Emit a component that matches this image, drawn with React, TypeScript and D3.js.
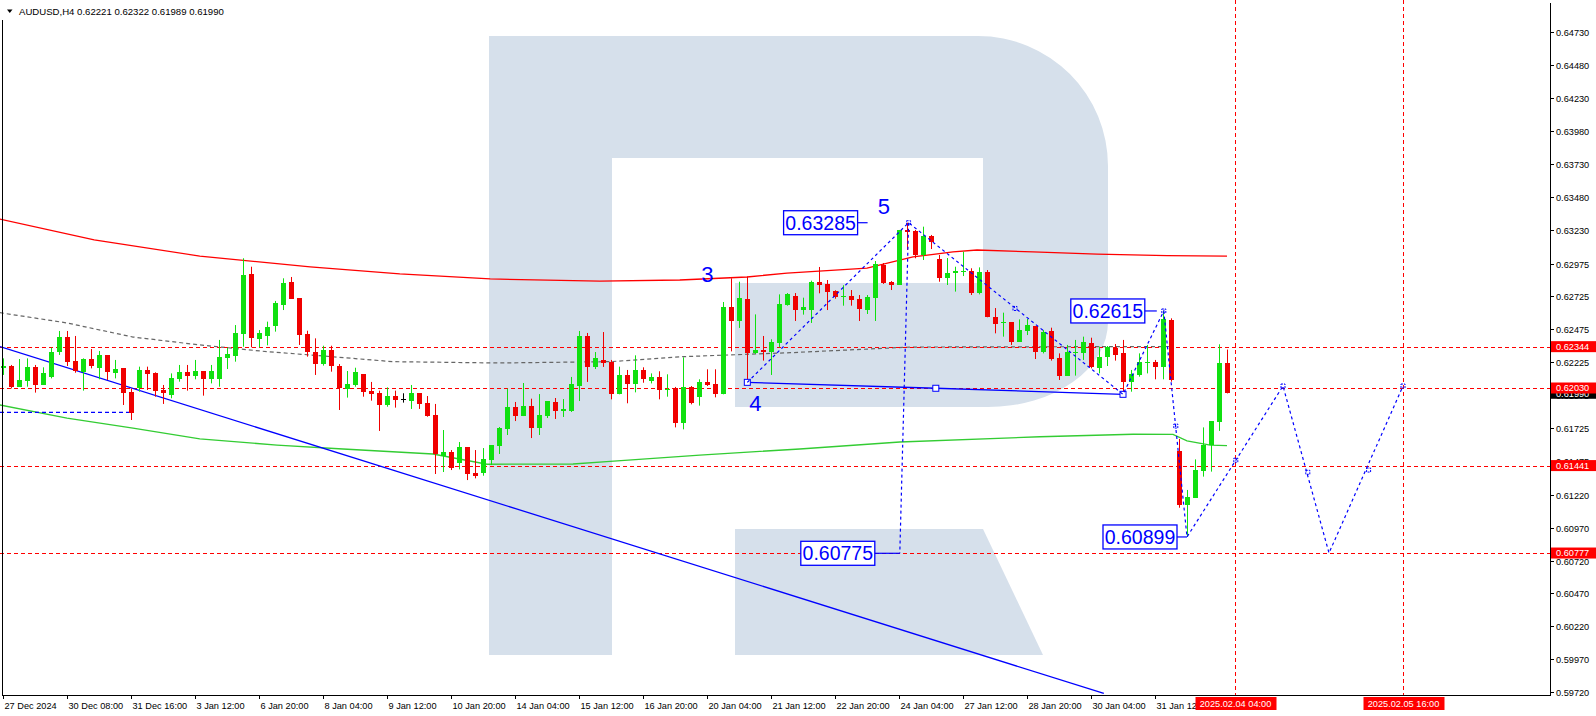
import React, { useEffect } from "react";
import * as d3 from "d3";

// ---------- candle data (H4 bars, index 0 = 27 Dec 2024 00:00) ----------
const OPEN = [
  0.62184, 0.62197, 0.6204, 0.62086, 0.6219, 0.62053, 0.62116, 0.62306, 0.62417, 0.62235,
  0.62154, 0.6225, 0.62184, 0.62278, 0.62146, 0.62182, 0.61997, 0.62027, 0.62167, 0.62144,
  0.62015, 0.61977, 0.62101, 0.62152, 0.62121, 0.62159, 0.62098, 0.62101, 0.6226, 0.62276,
  0.6244, 0.62896, 0.62405, 0.62427, 0.62501, 0.6266, 0.62835, 0.62713, 0.6244, 0.62303,
  0.62215, 0.62319, 0.62197, 0.62025, 0.62053, 0.62136, 0.62007, 0.61992, 0.61903, 0.61969,
  0.61949, 0.61931, 0.61992, 0.61916, 0.61825, 0.61516, 0.61544, 0.61461, 0.61582, 0.61385,
  0.61385, 0.61483, 0.6159, 0.61719, 0.61886, 0.61817, 0.61893, 0.61726, 0.61817, 0.61924,
  0.61855, 0.61855, 0.62045, 0.62425, 0.6219, 0.62243, 0.6223, 0.61982, 0.62129, 0.62058,
  0.62164, 0.62086, 0.62111, 0.62012, 0.62027, 0.61767, 0.62035, 0.61959, 0.62073, 0.6206,
  0.61982, 0.62643, 0.62536, 0.62703, 0.62298, 0.62316, 0.62306, 0.62372, 0.62663, 0.62729,
  0.6262, 0.62622, 0.62835, 0.6282, 0.62767, 0.62721, 0.62729, 0.62708, 0.62622, 0.62713,
  0.62964, 0.62837, 0.62815, 0.6323, 0.63225, 0.6304, 0.63184, 0.6301, 0.62868, 0.62901,
  0.62913, 0.62918, 0.62749, 0.62913, 0.62567, 0.62521, 0.62531, 0.62382, 0.62465, 0.62501,
  0.62306, 0.62463, 0.62255, 0.62124, 0.62293, 0.62293, 0.62369, 0.62184, 0.62263, 0.62334,
  0.62293, 0.62073, 0.62129, 0.62222, 0.62227, 0.62192, 0.62546, 0.61552, 0.61142, 0.61197,
  0.61402, 0.61597, 0.61774, 0.62221,
];
const HIGH = [
  0.62255, 0.62205, 0.6225, 0.62255, 0.62205, 0.62187, 0.62336, 0.62463, 0.62463, 0.62425,
  0.62255, 0.62326, 0.62311, 0.62278, 0.62243, 0.62182, 0.62027, 0.62192, 0.62192, 0.62149,
  0.62053, 0.62141, 0.62205, 0.62205, 0.62243, 0.62159, 0.62205, 0.62395, 0.62336, 0.62508,
  0.63015, 0.62951, 0.6247, 0.62534, 0.62691, 0.62863, 0.62873, 0.62713, 0.62465, 0.62407,
  0.62351, 0.62351, 0.62212, 0.62159, 0.62184, 0.62136, 0.62076, 0.6201, 0.62035, 0.6201,
  0.6199, 0.62053, 0.61992, 0.61969, 0.61909, 0.61711, 0.61559, 0.6162, 0.61582, 0.61559,
  0.61574, 0.61597, 0.61734, 0.62025, 0.61924, 0.62068, 0.61949, 0.61984, 0.61931, 0.61954,
  0.61946, 0.62114, 0.62463, 0.62448, 0.62303, 0.62455, 0.62243, 0.62192, 0.62167, 0.62278,
  0.62187, 0.62141, 0.62157, 0.62134, 0.62038, 0.62263, 0.62045, 0.62096, 0.62172, 0.62172,
  0.62683, 0.62863, 0.62837, 0.62875, 0.62589, 0.62425, 0.624, 0.62741, 0.62751, 0.62751,
  0.62716, 0.62845, 0.62949, 0.6285, 0.62772, 0.6281, 0.62774, 0.62736, 0.62736, 0.62994,
  0.62979, 0.62842, 0.6323, 0.63285, 0.6323, 0.63255, 0.63192, 0.6304, 0.63017, 0.62951,
  0.63065, 0.62939, 0.62946, 0.62926, 0.62637, 0.62602, 0.62531, 0.62551, 0.62554, 0.62501,
  0.6247, 0.62488, 0.62293, 0.62357, 0.62395, 0.6242, 0.62412, 0.62344, 0.62349, 0.62364,
  0.62395, 0.62167, 0.62293, 0.62357, 0.62243, 0.62615, 0.62559, 0.61643, 0.61256, 0.61488,
  0.61731, 0.61779, 0.62362, 0.62322,
];
const LOW = [
  0.62129, 0.62027, 0.6204, 0.6204, 0.61995, 0.62053, 0.62103, 0.62281, 0.62197, 0.62146,
  0.6201, 0.62179, 0.62096, 0.62091, 0.62103, 0.61901, 0.61787, 0.62002, 0.62015, 0.61964,
  0.61909, 0.61952, 0.62078, 0.6201, 0.62096, 0.61972, 0.62065, 0.6204, 0.62174, 0.6223,
  0.62344, 0.62339, 0.62339, 0.62354, 0.62458, 0.62622, 0.62708, 0.62357, 0.62268, 0.62129,
  0.622, 0.62154, 0.61863, 0.61957, 0.6204, 0.61964, 0.61934, 0.61704, 0.61888, 0.61881,
  0.61919, 0.61871, 0.61871, 0.61812, 0.61377, 0.61392, 0.61407, 0.61412, 0.61331, 0.61344,
  0.61364, 0.61445, 0.61529, 0.61673, 0.61779, 0.61817, 0.6165, 0.61673, 0.61802, 0.61795,
  0.6181, 0.61848, 0.61931, 0.62076, 0.62174, 0.6219, 0.61944, 0.61982, 0.61914, 0.61997,
  0.6207, 0.62065, 0.61944, 0.61964, 0.61731, 0.61716, 0.61906, 0.61896, 0.62045, 0.61959,
  0.61982, 0.62308, 0.62486, 0.62078, 0.62288, 0.62238, 0.62129, 0.62339, 0.62655, 0.62539,
  0.62587, 0.62524, 0.62749, 0.62622, 0.62708, 0.62655, 0.62655, 0.62539, 0.62592, 0.62539,
  0.6282, 0.62774, 0.62815, 0.63078, 0.63015, 0.63002, 0.63085, 0.62837, 0.62812, 0.62762,
  0.6288, 0.62736, 0.62741, 0.62567, 0.62445, 0.6242, 0.62357, 0.62382, 0.62432, 0.6225,
  0.62293, 0.62238, 0.62091, 0.62124, 0.62124, 0.62243, 0.62179, 0.62141, 0.62197, 0.62238,
  0.6199, 0.62002, 0.62116, 0.62141, 0.62096, 0.62096, 0.62078, 0.61121, 0.60899, 0.61197,
  0.61357, 0.61395, 0.61704, 0.61989,
];
const CLOSE = [
  0.622, 0.6204, 0.62091, 0.6219, 0.62053, 0.62144, 0.62303, 0.62417, 0.6223, 0.62162,
  0.6225, 0.622, 0.62278, 0.62154, 0.62174, 0.61995, 0.61843, 0.62167, 0.62136, 0.6201,
  0.6199, 0.62106, 0.62152, 0.62121, 0.62159, 0.62101, 0.62159, 0.62265, 0.62288, 0.62448,
  0.62888, 0.62407, 0.62448, 0.62493, 0.62678, 0.62827, 0.62708, 0.62435, 0.62306, 0.62215,
  0.62319, 0.622, 0.6203, 0.6206, 0.62152, 0.62002, 0.61987, 0.61901, 0.61969, 0.61939,
  0.61949, 0.61992, 0.61911, 0.61817, 0.61526, 0.61544, 0.61425, 0.61582, 0.6138, 0.61364,
  0.61491, 0.61597, 0.61726, 0.61886, 0.61817, 0.61893, 0.61726, 0.61825, 0.61931, 0.61855,
  0.61871, 0.6206, 0.62425, 0.6219, 0.62258, 0.6222, 0.61982, 0.62126, 0.62058, 0.62167,
  0.62096, 0.62111, 0.62012, 0.6202, 0.61767, 0.62035, 0.61914, 0.62073, 0.62055, 0.61982,
  0.62643, 0.62536, 0.62711, 0.62298, 0.62319, 0.62303, 0.62377, 0.62665, 0.62744, 0.62622,
  0.62645, 0.62835, 0.62815, 0.62762, 0.62724, 0.62729, 0.62701, 0.6263, 0.62718, 0.62969,
  0.62827, 0.62815, 0.6323, 0.63214, 0.6304, 0.63184, 0.63141, 0.62868, 0.62901, 0.62918,
  0.62921, 0.62749, 0.62908, 0.62567, 0.62516, 0.62534, 0.62382, 0.6247, 0.62508, 0.62306,
  0.62453, 0.6225, 0.62124, 0.62306, 0.62303, 0.62377, 0.62192, 0.62265, 0.62339, 0.62281,
  0.62078, 0.62134, 0.62225, 0.6223, 0.62192, 0.62551, 0.62091, 0.61142, 0.612, 0.61407,
  0.61597, 0.61779, 0.62217, 0.6199,
];

// ---------- axes ----------
const X_TICK_LABELS = [
  "27 Dec 2024", "30 Dec 08:00", "31 Dec 16:00", "3 Jan 12:00", "6 Jan 20:00", "8 Jan 04:00",
  "9 Jan 12:00", "10 Jan 20:00", "14 Jan 04:00", "15 Jan 12:00", "16 Jan 20:00", "20 Jan 04:00",
  "21 Jan 12:00", "22 Jan 20:00", "24 Jan 04:00", "27 Jan 12:00", "28 Jan 20:00", "30 Jan 04:00",
  "31 Jan 12:00",
];
const X_TICK_STEP = 8;
const Y_TICKS = [
  0.6473, 0.6448, 0.6423, 0.6398, 0.6373, 0.6348, 0.6323, 0.62975, 0.62725, 0.62475, 0.62225,
  0.61975, 0.61725, 0.61475, 0.6122, 0.6097, 0.6072, 0.6047, 0.6022, 0.5997, 0.5972,
];

// ---------- indicator lines: [barIndex, price] ----------
const RED_MA: [number, number][] = [
  [-0.4, 0.63313], [11.4, 0.63154], [24.6, 0.63032], [38.4, 0.62949], [49.6, 0.62896],
  [60.9, 0.62858], [74.6, 0.62842], [84.6, 0.6285], [93, 0.62873], [98, 0.62903],
  [108, 0.62941], [113.75, 0.63025], [118.75, 0.63063], [121.75, 0.63078], [128.75, 0.63063],
  [136.75, 0.63047], [145.5, 0.63035], [153, 0.63032],
];
const GRAY_MA: [number, number][] = [
  [-0.4, 0.62602], [8, 0.62524], [16.25, 0.62417], [24.6, 0.62357], [33, 0.62306],
  [38.4, 0.62281], [48.75, 0.6223], [62, 0.6222], [75.9, 0.6223], [85, 0.62268],
  [98.4, 0.62298], [113.4, 0.62341], [146, 0.62345],
];
const GREEN_MA: [number, number][] = [
  [-0.4, 0.61901], [8, 0.61802], [16.25, 0.61726], [24.6, 0.61643], [34.25, 0.61597],
  [42.5, 0.61567], [53.75, 0.61529], [60.5, 0.61451], [71.25, 0.61453], [75.9, 0.61473],
  [87.1, 0.61521], [99.6, 0.61567], [112.1, 0.6162], [129.6, 0.6166], [141.25, 0.61679],
  [146.25, 0.61678], [148, 0.61628], [150.9, 0.61597], [153, 0.61593],
];

// ---------- drawn objects ----------
const TREND_LINE: [number, number][] = [[-0.375, 0.62344], [137.6, 0.59711]];
const SHORT_DASH: [number, number][] = [[-0.375, 0.61845], [16, 0.61845]];
const BASE_LINE: [number, number][] = [[93.04, 0.62073], [116.6, 0.62028], [140, 0.61982]];
const WAVE_PATH: [number, number][] = [
  [93.04, 0.62073], [113.2, 0.63285], [140, 0.61982], [145.1, 0.62615], [148, 0.60899],
  [160, 0.62045], [165.75, 0.60777], [175, 0.62045],
];
const WAVE_MARKS: [number, number][] = [
  [113.2, 0.63285], [126.5, 0.62634], [145.1, 0.62615], [146.6, 0.61741], [154.1, 0.61482],
  [160, 0.62045], [163.1, 0.6139], [170.7, 0.61407], [175, 0.62045],
];
const TARGET_DROP: [number, number][] = [[113.2, 0.63285], [112.1, 0.60775]];
const PRICE_TAGS = [
  { text: "0.63285", idx: 113.2, price: 0.63285, off: 51, stub: 10 },
  { text: "0.62615", idx: 145.1, price: 0.62615, off: 19, stub: 12 },
  { text: "0.60899", idx: 148, price: 0.60899, off: 10, stub: 10 },
  { text: "0.60775", idx: 112.1, price: 0.60775, off: 25, stub: 25 },
];
const WAVE_NUMBERS = [
  { text: "3", idx: 88.06, price: 0.62899 },
  { text: "4", idx: 94.06, price: 0.61916 },
  { text: "5", idx: 110.1, price: 0.63412 },
];
const LEVELS = [0.62344, 0.6203, 0.61441, 0.60777];
const BID = 0.6199;
const TIME_LINES = [
  { idx: 154, text: "2025.02.04 04:00" },
  { idx: 175, text: "2025.02.05 16:00" },
];
const HEADER = "AUDUSD,H4  0.62221 0.62322 0.61989 0.61990";

const FONT = '"Liberation Sans", Arial, sans-serif';
const W = 1596;
const H = 716;
const PR = 1550; // plot right
const PB = 695; // plot bottom
const UP = "#10e010";
const DOWN = "#f00000";
const BLUE = "#0000ff";
const LEVEL_RED = "#ff0000";

export default function App() {
  useEffect(() => {
    document.body.style.margin = "0";
    document.body.style.overflow = "hidden";
  }, []);

  const x = d3.scaleLinear().domain([-0.375, 193.375]).range([0, PR]);
  const y = d3.scaleLinear().domain([0.59699, 0.649761]).range([PB, 0]);
  const line = d3
    .line<[number, number]>()
    .x((d) => x(d[0]))
    .y((d) => y(d[1]));

  const candles = OPEN.map((o, i) => {
    const c = CLOSE[i];
    const h = HIGH[i];
    const l = LOW[i];
    const cx = Math.round(x(i));
    const color = c > o ? UP : c < o ? DOWN : "#000";
    const top = Math.round(y(Math.max(o, c)));
    const bot = Math.round(y(Math.min(o, c)));
    return (
      <g key={i}>
        <line x1={cx + 0.5} x2={cx + 0.5} y1={y(h)} y2={y(l)} stroke={color} strokeWidth={1} />
        <rect x={cx - 2} y={top} width={5} height={Math.max(1, bot - top)} fill={color} />
      </g>
    );
  });

  return (
    <svg
      width={W}
      height={H}
      style={{ position: "absolute", left: 0, top: 0, display: "block" }}
      fontFamily={FONT}
    >
      <defs>
        <clipPath id="plot">
          <rect x={0} y={0} width={PR} height={PB} />
        </clipPath>
      </defs>
      <rect x={0} y={0} width={W} height={H} fill="#fff" />

      {/* watermark logo */}
      <g fill="#d6e0eb">
        <path d="M489,36 H978 A130,130 0 0 1 1108,166 V322 A120,85 0 0 1 988,407 H735 V283 H983 V158 H612 V655 H489 Z" />
        <path d="M735,529 H983 L1043,655 H735 Z" />
      </g>

      <g clipPath="url(#plot)">
        {/* moving averages */}
        <path d={line(RED_MA) || ""} fill="none" stroke="#ff0000" strokeWidth={1.3} />
        <path d={line(GRAY_MA) || ""} fill="none" stroke="#666" strokeWidth={1.2} strokeDasharray="4,3" />
        <path d={line(GREEN_MA) || ""} fill="none" stroke="#3c3" strokeWidth={1.3} />

        {/* levels */}
        {LEVELS.map((p) => (
          <line key={p} x1={0} x2={PR} y1={Math.round(y(p)) + 0.5} y2={Math.round(y(p)) + 0.5} stroke={LEVEL_RED} strokeDasharray="4,3" />
        ))}
        {TIME_LINES.map((t) => (
          <line key={t.idx} x1={Math.round(x(t.idx)) + 0.5} x2={Math.round(x(t.idx)) + 0.5} y1={0} y2={PB} stroke={LEVEL_RED} strokeDasharray="4,3" />
        ))}

        {/* trend lines */}
        <path d={line(TREND_LINE) || ""} fill="none" stroke={BLUE} strokeWidth={1.3} />
        <path d={line(SHORT_DASH) || ""} fill="none" stroke={BLUE} strokeWidth={1.2} strokeDasharray="4,3" />

        {candles}

        <path d={line(BASE_LINE) || ""} fill="none" stroke={BLUE} strokeWidth={1.3} />
        {BASE_LINE.map((d, k) => (
          <rect key={k} x={x(d[0]) - 3} y={y(d[1]) - 3} width={6} height={6} fill="#fff" stroke={BLUE} strokeWidth={1} />
        ))}
        <path d={line(WAVE_PATH) || ""} fill="none" stroke={BLUE} strokeWidth={1.2} strokeDasharray="3,3" />
        <path d={line(TARGET_DROP) || ""} fill="none" stroke={BLUE} strokeWidth={1.2} strokeDasharray="3,3" />
        {WAVE_MARKS.map((d, k) => (
          <rect key={k} x={x(d[0]) - 2} y={y(d[1]) - 2} width={4} height={4} fill="none" stroke={BLUE} strokeWidth={1} strokeDasharray="2,1" />
        ))}

        {/* price tags */}
        {PRICE_TAGS.map((t) => {
          const ax = x(t.idx);
          const ay = y(t.price);
          const right = ax - t.off;
          const w = 74;
          const h = 24;
          return (
            <g key={t.text}>
              <line x1={right} x2={right + t.stub} y1={ay} y2={ay} stroke={BLUE} strokeWidth={1.2} />
              <rect x={right - w} y={ay - h / 2} width={w} height={h} fill="#fff" stroke={BLUE} strokeWidth={1.3} />
              <text x={right - w / 2} y={ay + 7} textAnchor="middle" fontSize={19.5} fill={BLUE}>
                {t.text}
              </text>
            </g>
          );
        })}
        {WAVE_NUMBERS.map((t) => (
          <text key={t.text} x={x(t.idx)} y={y(t.price) + 8} textAnchor="middle" fontSize={22} fill={BLUE}>
            {t.text}
          </text>
        ))}
      </g>

      {/* frame */}
      <line x1={2.5} x2={2.5} y1={20} y2={PB + 0.5} stroke="#000" />
      <line x1={PR + 0.5} x2={PR + 0.5} y1={3} y2={PB + 0.5} stroke="#000" />
      <line x1={2} x2={PR + 1} y1={PB + 0.5} y2={PB + 0.5} stroke="#000" />

      {/* y axis */}
      {Y_TICKS.map((p) => {
        const yy = Math.round(y(p)) + 0.5;
        return (
          <g key={p}>
            <line x1={PR} x2={PR + 4} y1={yy} y2={yy} stroke="#000" />
            <text x={PR + 6} y={yy + 3.3} fontSize={9.2} fill="#000">
              {p.toFixed(5)}
            </text>
          </g>
        );
      })}
      {/* bid label */}
      <g>
        <rect x={PR + 1} y={y(BID) - 5.5} width={W - PR - 1} height={11} fill="#000" />
        <text x={PR + 6} y={y(BID) + 3.3} fontSize={9.2} fill="#fff">
          {BID.toFixed(5)}
        </text>
      </g>
      {LEVELS.map((p) => (
        <g key={p}>
          <rect x={PR + 1} y={y(p) - 5.5} width={W - PR - 1} height={11} fill="#ff0000" />
          <text x={PR + 6} y={y(p) + 3.3} fontSize={9.2} fill="#fff">
            {p.toFixed(5)}
          </text>
        </g>
      ))}

      {/* x axis */}
      {X_TICK_LABELS.map((lab, k) => {
        const xx = Math.round(x(k * X_TICK_STEP)) + 0.5;
        return (
          <g key={lab}>
            <line x1={xx} x2={xx} y1={PB} y2={PB + 4} stroke="#000" />
            <text x={xx + 1} y={709} fontSize={9.2} fill="#000">
              {lab}
            </text>
          </g>
        );
      })}
      {TIME_LINES.map((t) => {
        const xx = Math.round(x(t.idx)) + 0.5;
        return (
          <g key={t.text}>
            <rect x={xx - 40} y={697} width={81} height={13} fill="#ff0000" />
            <text x={xx} y={707} textAnchor="middle" fontSize={9.2} fill="#fff">
              {t.text}
            </text>
          </g>
        );
      })}

      {/* header */}
      <path d="M7,9.5 H12.5 L9.75,13 Z" fill="#000" />
      <text x={19} y={15} fontSize={9.6} fill="#000">
        {HEADER}
      </text>
    </svg>
  );
}
